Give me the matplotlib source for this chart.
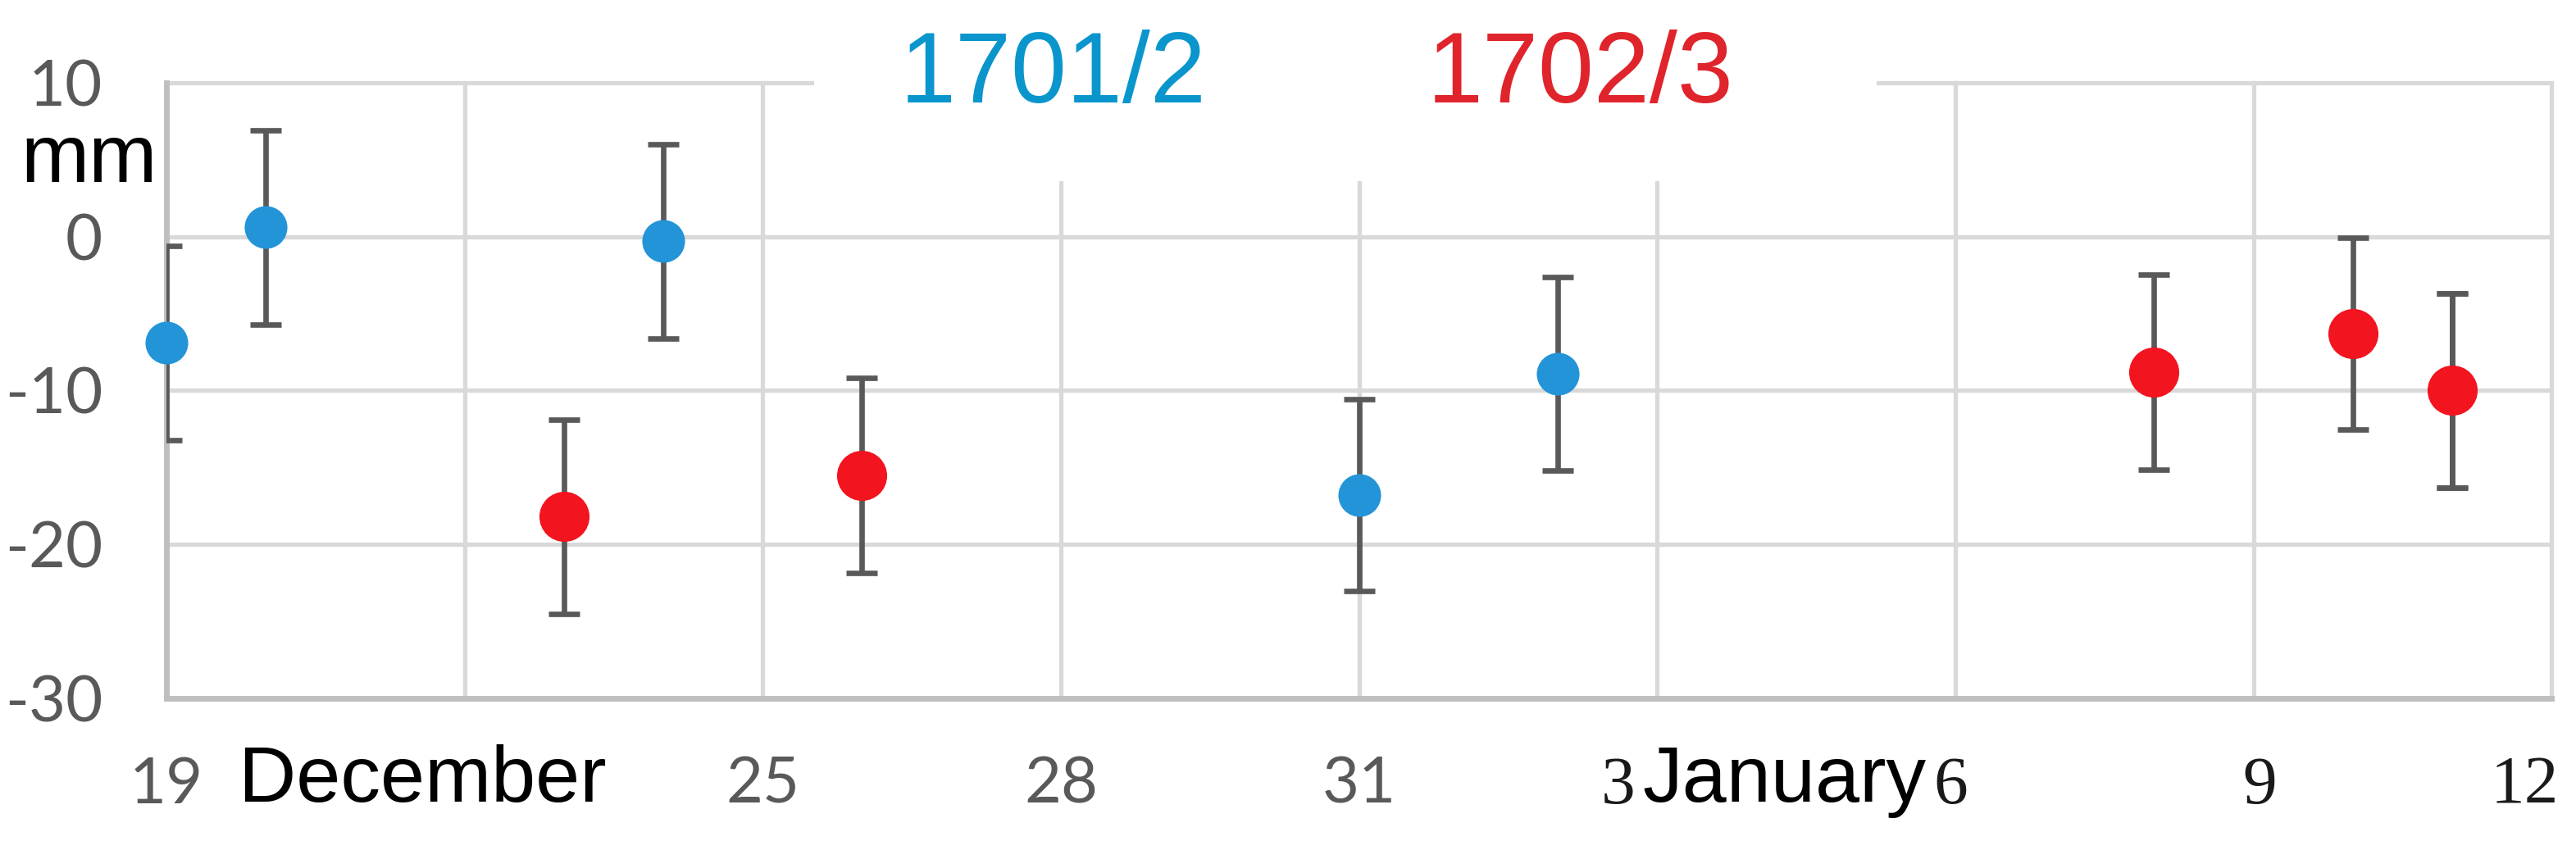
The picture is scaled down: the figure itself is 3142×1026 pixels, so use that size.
import matplotlib

matplotlib.use("Agg")
import matplotlib.pyplot as plt
import matplotlib.dates as mdates
import matplotlib.transforms as mtransforms
from matplotlib.patches import Rectangle
import pandas as pd

# ---- data (mm, with +/- error) ----
blue_name = "1701/2"
blue_dates = ["2016-12-19", "2016-12-20", "2016-12-24", "2016-12-31", "2017-01-02", "2017-01-11"]
blue_vals = [-6.9, 0.6, -0.3, -16.8, -8.9, -10.0]
blue_err = [6.3, 6.3, 6.3, 6.25, 6.3, 6.3]

red_name = "1702/3"
red_dates = ["2016-12-23", "2016-12-26", "2017-01-08", "2017-01-10", "2017-01-11"]
red_vals = [-18.2, -15.5, -8.8, -6.3, -10.0]
red_err = [6.3, 6.35, 6.35, 6.25, 6.3]

x_start, x_end = "2016-12-19", "2017-01-12"
tick_labels = ["19", "", "25", "28", "31", "3", "6", "9", "12"]
y_ticks = [10, 0, -10, -20, -30]
month_labels = ["December", "January"]
unit_label = "mm"

BLUE = "#2394d8"
RED = "#f2141f"
ERR = "#595959"
GRID = "#d9d9d9"

fig = plt.figure(figsize=(31.42, 10.26), dpi=100)
ax = fig.add_axes([0.0646, 0.1696, 0.9259, 0.7320])

bx = mdates.date2num(pd.to_datetime(blue_dates))
rx = mdates.date2num(pd.to_datetime(red_dates))

# error bars are clipped by the axes (first one shows a half cap)
for xs, ys, es in [(bx, blue_vals, blue_err), (rx, red_vals, red_err)]:
    ax.errorbar(xs, ys, yerr=es, fmt="none", ecolor=ERR, elinewidth=4.8,
                capsize=14, capthick=4.8, zorder=3)

ax.plot(bx, blue_vals, "o", color=BLUE, ms=37.5, mew=0, zorder=4, clip_on=False)
ax.plot(rx, red_vals, "o", color=RED, ms=44, mew=0, zorder=5, clip_on=False)

ax.set_xlim(mdates.date2num(pd.Timestamp(x_start)), mdates.date2num(pd.Timestamp(x_end)))
ax.set_ylim(-30, 10)
ticks = mdates.date2num(pd.date_range(x_start, x_end, freq="3D"))
ax.set_xticks(ticks)
ax.set_xticklabels(tick_labels)
ax.set_yticks(y_ticks)
ax.set_yticklabels([str(v) for v in y_ticks])

ax.grid(True, color=GRID, lw=3.8, clip_on=False)
ax.set_axisbelow(True)
for side in ["top", "right"]:
    ax.spines[side].set_visible(False)
for side in ["left", "bottom"]:
    ax.spines[side].set_color("#bfbfbf")
    ax.spines[side].set_linewidth(5)
    ax.spines[side].set_zorder(2.5)

ax.tick_params(axis="both", length=0)
ax.tick_params(axis="y", pad=56, labelsize=56, labelcolor="#595959")
ax.tick_params(axis="x", pad=92)
for lab in ax.get_yticklabels():
    lab.set_fontfamily(["Lato", "DejaVu Sans"])

# first labels are a grey sans face, the January ones a serif face
shift_px = {"3": -48, "12": -33, "6": -6, "9": 8}
for i, lab in enumerate(ax.get_xticklabels()):
    lab.set_va("baseline")
    if i < 5:
        lab.set_fontfamily(["Lato", "DejaVu Sans"])
        lab.set_fontsize(56)
        lab.set_color("#595959")
    else:
        lab.set_fontfamily(["Liberation Serif", "DejaVu Serif"])
        lab.set_fontsize(60)
        lab.set_color("#1a1a1a")
    dx = shift_px.get(lab.get_text(), 0)
    if dx:
        lab.set_transform(lab.get_transform() + mtransforms.ScaledTranslation(dx / 100, 0, fig.dpi_scale_trans))

# white block behind the series names, hiding the top of the grid
ax.add_patch(Rectangle((0.2716, 0.840), 0.4455, 0.35, transform=ax.transAxes,
                       facecolor="white", edgecolor="none", zorder=2.8, clip_on=False))

fig.text(0.409, 0.878, blue_name, color="#0a96cc", fontsize=88, ha="center", va="baseline",
         family=["Liberation Sans Narrow", "Liberation Sans"])
fig.text(0.6135, 0.878, red_name, color="#e0242c", fontsize=88, ha="center", va="baseline",
         family=["Liberation Sans Narrow", "Liberation Sans"])

ax.text(0.0303, -0.168, month_labels[0], transform=ax.transAxes, fontsize=70,
        color="black", ha="left", va="baseline", family="Liberation Sans")
ax.text(0.6188, -0.168, month_labels[1], transform=ax.transAxes, fontsize=70,
        color="black", ha="left", va="baseline", family="Liberation Sans")
fig.text(0.008, 0.7836, unit_label, fontsize=72, color="black", ha="left", va="baseline",
         family="Liberation Sans")

fig.savefig("out.png", dpi=100, facecolor="white")
